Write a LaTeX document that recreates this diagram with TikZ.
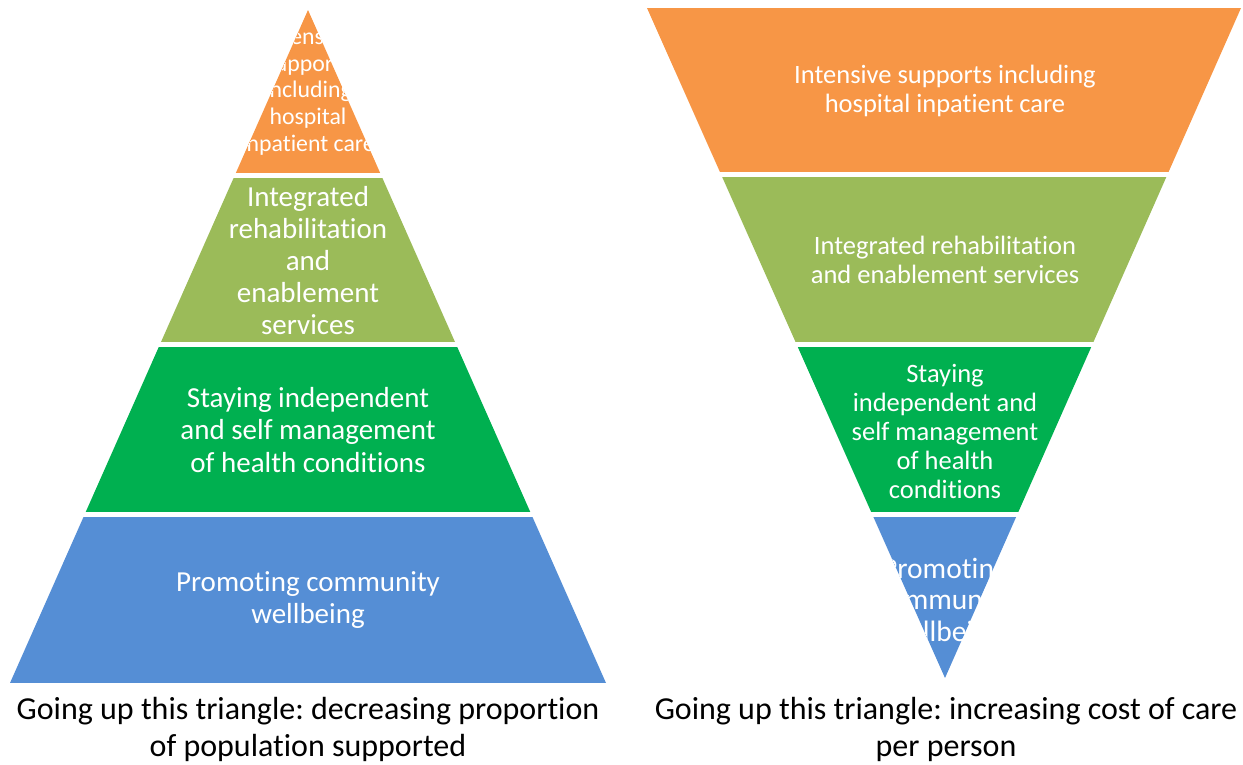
\documentclass[tikz,border=0pt]{standalone}
\usepackage{fontspec}
\setmainfont{Carlito}[Ligatures=NoCommon]
\frenchspacing
\definecolor{tierorange}{HTML}{F79646}
\definecolor{tierolive}{HTML}{9BBB59}
\definecolor{tiergreen}{HTML}{00B050}
\definecolor{tierblue}{HTML}{558ED5}
\tikzset{
  tiertext/.style={text=white, align=center, inner sep=0pt},
  captiontext/.style={text=black, align=center, inner sep=0pt, font=\fontsize{32}{37}\selectfont}
}
% one band of a triangle: fill colour, top y, bottom y, triangle path
\newcommand\tierband[4]{%
  \begin{scope}
    \clip #4;
    \fill[#1] (0,#2) rectangle (1243,#3);
  \end{scope}}
\begin{document}
\begin{tikzpicture}[x=1pt,y=-1pt]
\useasboundingbox (0,0) rectangle (1243,765);
\def\lefttri{(308,10) -- (606,683) -- (10,683) -- cycle}
\def\righttri{(647,8) -- (1241,8) -- (945,678) -- cycle}

% left pyramid: population supported
\tierband{tierorange}{10}{173}{\lefttri}
\tierband{tierolive}{178}{342}{\lefttri}
\tierband{tiergreen}{347}{512}{\lefttri}
\tierband{tierblue}{517}{683}{\lefttri}

\begin{scope}
  \clip \lefttri; \clip (0,10) rectangle (1243,173);
  \node[tiertext, font=\fontsize{23.8}{26.7}\selectfont] (lint) at (308,91.5)
    {Intensive\\supports\\including\\hospital\\inpatient care};
\end{scope}
\node[tiertext, font=\fontsize{29}{32.2}\selectfont] (lreh) at (308,260.5)
  {Integrated\\rehabilitation\\and\\enablement\\services};
\node[tiertext, font=\fontsize{29}{32.2}\selectfont] (lind) at (308,430)
  {Staying independent\\and self management\\of health conditions};
\node[tiertext, font=\fontsize{29}{32.2}\selectfont] (lcom) at (308,600)
  {Promoting community\\wellbeing};

% right pyramid: cost of care
\tierband{tierorange}{8}{172}{\righttri}
\tierband{tierolive}{177}{342}{\righttri}
\tierband{tiergreen}{347}{512}{\righttri}
\tierband{tierblue}{517}{678}{\righttri}

\node[tiertext, font=\fontsize{26.5}{29}\selectfont] (rint) at (945,90.5)
  {Intensive supports including\\hospital inpatient care};
\node[tiertext, font=\fontsize{26.5}{29}\selectfont] (rreh) at (945,260)
  {Integrated rehabilitation\\and enablement services};
\node[tiertext, font=\fontsize{26.5}{29}\selectfont] (rind) at (945,431)
  {Staying\\independent and\\self management\\of health\\conditions};
\begin{scope}
  \clip \righttri; \clip (0,517) rectangle (1243,678);
  \node[tiertext, font=\fontsize{29.5}{31.5}\selectfont] (rcom) at (945,602)
    {Promoting\\community\\wellbeing};
\end{scope}

% captions
\node[captiontext] (lcap) at (308,729)
  {Going up this triangle: decreasing proportion\\of population supported};
\node[captiontext] (rcap) at (946,729)
  {Going up this triangle: increasing cost of care\\per person};
\end{tikzpicture}
\end{document}
